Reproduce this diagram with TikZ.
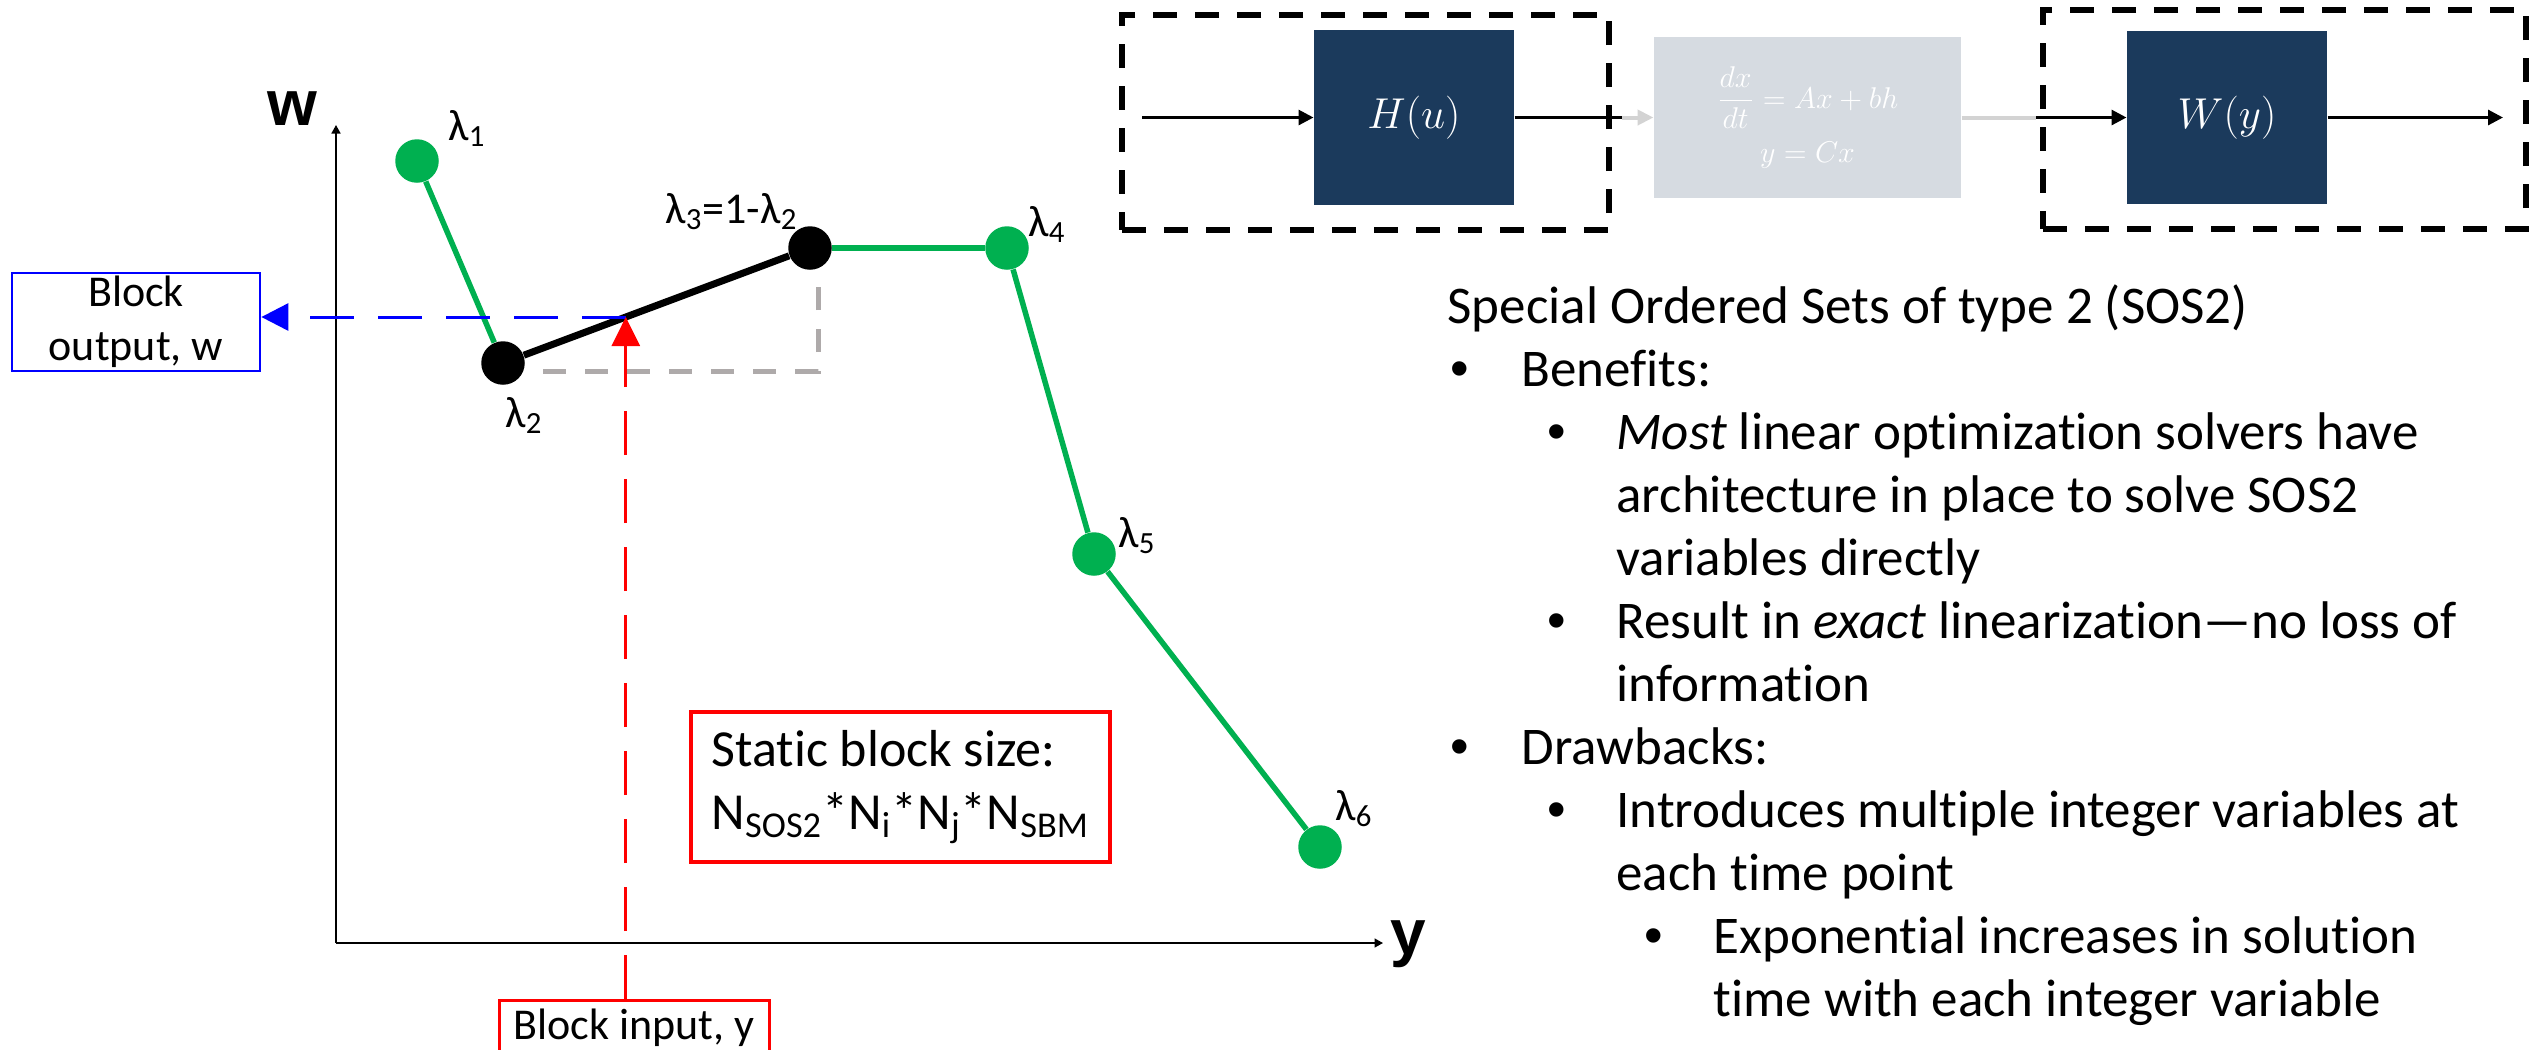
\documentclass[tikz,border=0pt]{standalone}
\usepackage{amsmath}
\usepackage{fontspec}
\setmainfont{Carlito}[Ligatures={TeX,NoCommon}]
\newfontfamily\axisfont{Liberation Sans}
\usetikzlibrary{arrows.meta,calc}
\definecolor{sosgreen}{HTML}{00B050}
\definecolor{navyblk}{HTML}{1B3A5C}
\definecolor{fadebox}{HTML}{D6DBE1}
\definecolor{fadeline}{HTML}{D3D3D3}
\definecolor{guide}{HTML}{AEAAAA}
\newcommand\setfs[2]{\fontsize{#1}{#2}\selectfont}
\newcommand\blt{{\axisfont\textbullet}}
\begin{document}
\begin{tikzpicture}[x=0.4pt,y=-0.4pt,
  gdot/.style={circle,fill=sosgreen,inner sep=0pt,minimum size=17.4pt},
  kdot/.style={circle,fill=black,inner sep=0pt,minimum size=17.4pt},
  gline/.style={draw=sosgreen,line width=2.2pt},
  kline/.style={draw=black,line width=2.8pt},
  axis/.style={draw=black,line width=0.6pt,-{Triangle[length=3.4pt,width=3.6pt]}},
  lab/.style={anchor=base west,inner sep=0pt,font=\setfs{17.6pt}{21pt}},
  axlab/.style={anchor=base west,inner sep=0pt,font=\axisfont\bfseries\setfs{25.6pt}{30pt}},
  txt/.style={anchor=base west,inner sep=0pt,font=\setfs{21.2pt}{25.2pt}},
  frame/.style={draw=black,line width=2.2pt,dash pattern=on 9.6pt off 7.2pt,inner sep=0pt},
  blk/.style={fill=navyblk,text=white,inner sep=0pt,font=\setfs{19pt}{23pt}},
  flow/.style={draw=black,line width=1.2pt,-{Triangle[length=6pt,width=6pt]}},
  flowplain/.style={draw=black,line width=1.2pt},
  fadeflow/.style={draw=fadeline,line width=1.6pt,-{Triangle[length=6.4pt,width=6pt]}},
  fadeplain/.style={draw=fadeline,line width=1.6pt},
  dashlink/.style={line width=1.2pt,dash pattern=on 17.6pt off 9.6pt}
]
\fill[white] (0,0) rectangle (2529,1049);
\useasboundingbox (0,0) rectangle (2529,1049);

% ---------- axes ----------
\coordinate (O) at (336,943);
\coordinate (wtip) at (336,125);
\coordinate (ytip) at (1383,943);
\draw[axis] (O) -- (wtip);
\draw[axis] (O) -- (ytip);
\node[axlab] (wl) at (267,125) {w};
\node[axlab] (yl) at (1390,954) {y};

% ---------- breakpoints ----------
\node[gdot] (l1) at (417,161) {};
\node[kdot] (l2) at (503,363) {};
\node[kdot] (l3) at (810,248) {};
\node[gdot] (l4) at (1007,248) {};
\node[gdot] (l5) at (1094,554) {};
\node[gdot] (l6) at (1320,847) {};
\draw[gline] (l1) -- (l2);
\draw[kline] (l2) -- (l3);
\draw[gline] (l3) -- (l4);
\draw[gline] (l4) -- (l5);
\draw[gline] (l5) -- (l6);
\draw[guide,line width=2pt,dash pattern=on 9.2pt off 7.6pt]
  ($(l2)+(40,8)$) -| ($(l3)+(8,34)$);

\node[lab] (n1) at (448,140) {λ\textsubscript{1}};
\node[lab] (n2) at (505,427) {λ\textsubscript{2}};
\node[lab] (n3) at (665,223) {λ\textsubscript{3}=1-λ\textsubscript{2}};
\node[lab] (n4) at (1028,236) {λ\textsubscript{4}};
\node[lab] (n5) at (1118,547) {λ\textsubscript{5}};
\node[lab] (n6) at (1335,820) {λ\textsubscript{6}};

% ---------- block input / output ----------
\coordinate (P) at ($(l2)!0.4!(l3)$);
\node[draw=blue,line width=1.1pt,minimum width=99.2pt,minimum height=39.2pt,
  inner sep=0pt,align=center,font=\setfs{17.6pt}{21.6pt}] (bo) at (136,322)
  {Block\\output, w};
\node[draw=red,line width=1.2pt,minimum width=108pt,minimum height=22pt,
  inner sep=0pt,anchor=north,font=\setfs{17.6pt}{21pt}] (bi) at (634,999)
  {Block input, y};
\draw[blue,dashlink,-{Triangle[length=10.8pt,width=10.8pt]}] (P) -- (bo.east |- P);
\draw[red,dashlink,line width=1.1pt,-{Triangle[length=11.6pt,width=11.2pt]}] (P |- bi.north) -- (P);

\node[draw=red,line width=1.8pt,minimum width=167.6pt,minimum height=60pt,
  inner sep=0pt,align=left,font=\setfs{20.8pt}{25.2pt}] (sb) at (900.5,787)
  {Static block size:\\N\textsubscript{SOS2}*N\textsubscript{i}*N\textsubscript{j}*N\textsubscript{SBM}};

% ---------- block diagram ----------
\node[frame,minimum width=194.8pt,minimum height=86pt] (fH) at (1365.5,122.5) {};
\node[frame,minimum width=193.2pt,minimum height=87.6pt] (fW) at (2284.5,119.5) {};
\node[blk,minimum width=80pt,minimum height=70pt] (H) at (1414,117.5) {$H(u)$};
\node[blk,minimum width=80pt,minimum height=69.2pt] (Wb) at (2227,117.5) {$W(y)$};
\node[fill=fadebox,text=white,inner sep=0pt,minimum width=122.8pt,minimum height=64.4pt,
  align=center,font=\setfs{11.6pt}{21.6pt}] (S) at (1807.5,117.5)
  {$\dfrac{dx}{dt} = Ax + bh$\\$y = Cx$};
\coordinate (in) at (1142,117.5);
\coordinate (fadeL) at (1622,117.5);
\coordinate (fadeR) at (2036,117.5);
\coordinate (out) at (2503,117.5);
\draw[flow] (in) -- (H);
\draw[flowplain] (H) -- (fadeL);
\draw[fadeflow] (fadeL) -- (S);
\draw[fadeplain] (S) -- (fadeR);
\draw[flow] (fadeR) -- (Wb);
\draw[flow] (Wb) -- (out);

% ---------- notes ----------
\node[txt] (head) at (1447,323) {Special Ordered Sets of type 2 (SOS2)};
\node[txt] (b1) at (1450,386) {\blt};
\node[txt] (t1) at (1521,386) {Benefits:};
\node[txt] (b2) at (1547,449) {\blt};
\node[txt] (t2) at (1616,449) {\textit{Most} linear optimization solvers have};
\node[txt] (t3) at (1616,512) {architecture in place to solve SOS2};
\node[txt] (t4) at (1616,575) {variables directly};
\node[txt] (b3) at (1547,638) {\blt};
\node[txt] (t5) at (1616,638) {Result in \textit{exact} linearization\textemdash no loss of};
\node[txt] (t6) at (1616,701) {information};
\node[txt] (b4) at (1450,764) {\blt};
\node[txt] (t7) at (1521,764) {Drawbacks:};
\node[txt] (b5) at (1547,827) {\blt};
\node[txt] (t8) at (1616,827) {Introduces multiple integer variables at};
\node[txt] (t9) at (1616,890) {each time point};
\node[txt] (b6) at (1644,953) {\blt};
\node[txt] (t10) at (1713,953) {Exponential increases in solution};
\node[txt] (t11) at (1713,1016) {time with each integer variable};
\end{tikzpicture}
\end{document}
